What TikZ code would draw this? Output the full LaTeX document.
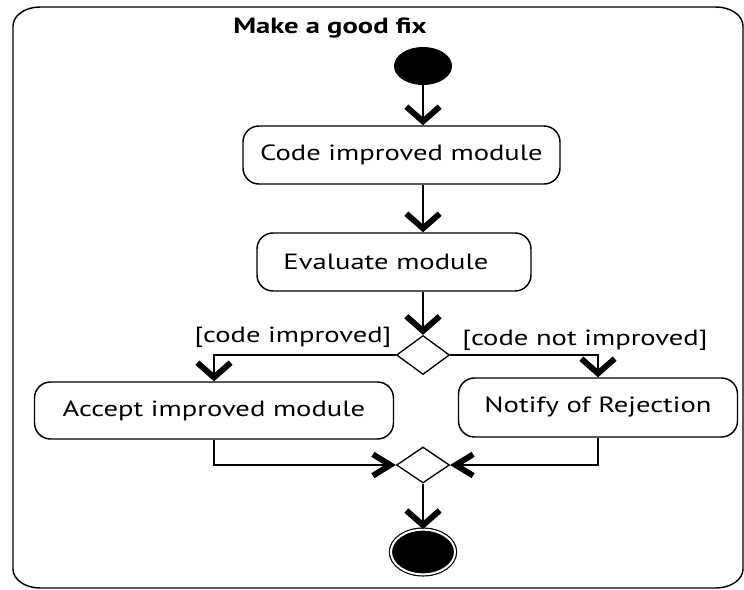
\documentclass[tikz,border=0pt]{standalone}
\usepackage{graphicx}
\usepackage{fontspec}
\setmainfont{PT Sans}
\usetikzlibrary{arrows.meta,shapes.geometric}
\newcommand\wide[1]{\scalebox{1.3}[1]{#1}}
\begin{document}
\begin{tikzpicture}[x=0.75pt,y=-0.75pt,
  txt/.style={font=\fontsize{16.5}{19}\selectfont,inner sep=0pt},
  box/.style={draw,line width=1.1pt,rounded corners=12pt,inner sep=0pt,font=\fontsize{16.5}{19}\selectfont},
  dec/.style={diamond,draw,line width=1pt,inner sep=0pt,minimum width=39.75pt},
  flow/.style={line width=1.3pt},
  varr/.style={flow,-{Straight Barb[length=11pt,width=25pt,line width=4.4pt]}},
  harr/.style={flow,-{Straight Barb[length=13pt,width=16pt,line width=4.4pt]}}
]
\useasboundingbox (0,0) rectangle (744,590);
% frame
\draw[line width=1.1pt] (13,26) .. controls (13,15.5) and (25.1,7) .. (40,7)
  -- (716,7) .. controls (730.9,7) and (743,15.5) .. (743,26)
  -- (743,569) .. controls (743,579.5) and (730.9,588) .. (716,588)
  -- (40,588) .. controls (25.1,588) and (13,579.5) .. (13,569) -- cycle;
\node[txt,font=\fontsize{16.5}{19}\selectfont\bfseries] (title) at (330,28) {\wide{Make a good fix}};
\node[ellipse,fill=black,inner sep=0pt,minimum width=43.5pt,minimum height=28.5pt] (init) at (423,66) {};
\node[box,minimum width=237.75pt,minimum height=43.5pt] (code) at (401.5,155) {\wide{Code improved module}};
\node[box,minimum width=205.5pt,minimum height=43.5pt] (eval) at (394,262) {\hspace*{-12pt}\wide{Evaluate module}};
\node[dec,minimum height=29.25pt] (d1) at (423,355) {};
\node[box,minimum width=269.25pt,minimum height=42.75pt] (acc) at (214,410.5) {\wide{Accept improved module}};
\node[box,minimum width=209.25pt,minimum height=44.25pt] (rej) at (598,407.5) {\wide{Notify of Rejection}};
\node[dec,minimum height=27pt] (d2) at (423,465) {};
\node[ellipse,fill=black,draw=black,line width=0.9pt,double=white,double distance=1.5pt,inner sep=0pt,minimum width=48pt,minimum height=33.5pt] (final) at (423,552) {};
\node[txt] (lyes) at (293,337) {\wide{[code improved]}};
\node[txt] (lno) at (585,340) {\wide{[code not improved]}};
% connectors
\draw[varr] (init) -- (init |- code.north);
\draw[varr] (code.south -| init) -- (eval.north -| init);
\draw[varr] (eval.south -| d1) -- (d1.north);
\draw[varr] (d1.west) -| (acc.north);
\draw[varr] (d1.east) -| (rej.north);
\draw[harr] (acc.south) |- (d2.west);
\draw[harr] (rej.south) |- (d2.east);
\draw[varr] (d2.south) -- (final.north);
\end{tikzpicture}
\end{document}
